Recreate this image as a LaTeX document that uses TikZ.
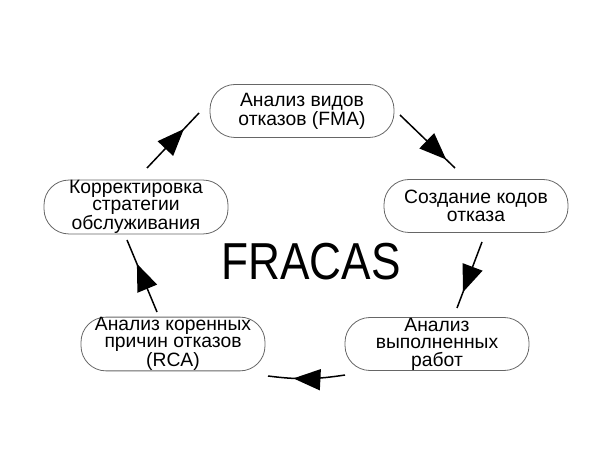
\documentclass[tikz,border=0pt]{standalone}
\usepackage{fontspec}
\setmainfont{Liberation Sans}
\newfontfamily\titlefont[FakeStretch=0.85]{Liberation Sans}
\usetikzlibrary{arrows.meta,decorations.markings}
\tikzset{
  stage/.style={draw=black!60, line width=0.8pt, rounded corners=25pt,
    minimum width=184pt, minimum height=53pt, align=center, inner sep=0pt,
    font=\fontsize{19.3}{17.5}\selectfont},
  flow/.style={line width=1.5pt, postaction={decorate},
    decoration={markings, mark=at position #1 with {\arrow{Triangle[length=27pt,width=21pt]}}}},
  flow/.default=0.7
}
\begin{document}
\begin{tikzpicture}[x=1pt,y=-1pt]
\useasboundingbox (0,0) rectangle (613,462);
\node[stage] (fma) at (302,111) {Анализ видов\\отказов (FMA)};
\node[stage] (codes) at (476,206) {Создание кодов\\отказа};
\node[stage] (works) at (437,344) {Анализ\\выполненных\\работ};
\node[stage] (rca) at (173,344) {Анализ коренных\\причин отказов\\(RCA)};
\node[stage] (corr) at (136,207) {Корректировка\\стратегии\\обслуживания};
\node[font=\titlefont\fontsize{52}{52}\selectfont] (title) at (311,262) {FRACAS};
\coordinate (a1s) at (400,115); \coordinate (a1e) at (455,168);
\coordinate (a2s) at (482,242); \coordinate (a2e) at (457,308);
\coordinate (a3s) at (345,375); \coordinate (a3e) at (268,376);
\coordinate (a4s) at (157,312); \coordinate (a4e) at (127,240);
\coordinate (a5s) at (147,168); \coordinate (a5e) at (199,113);
\draw[flow=0.84] (a1s) -- (a1e);
\draw[flow=0.76] (a2s) -- (a2e);
\draw[flow=0.67] (a3s) to[bend left=8] (a3e);
\draw[flow=0.67] (a4s) -- (a4e);
\draw[flow=0.71] (a5s) -- (a5e);
\end{tikzpicture}
\end{document}
